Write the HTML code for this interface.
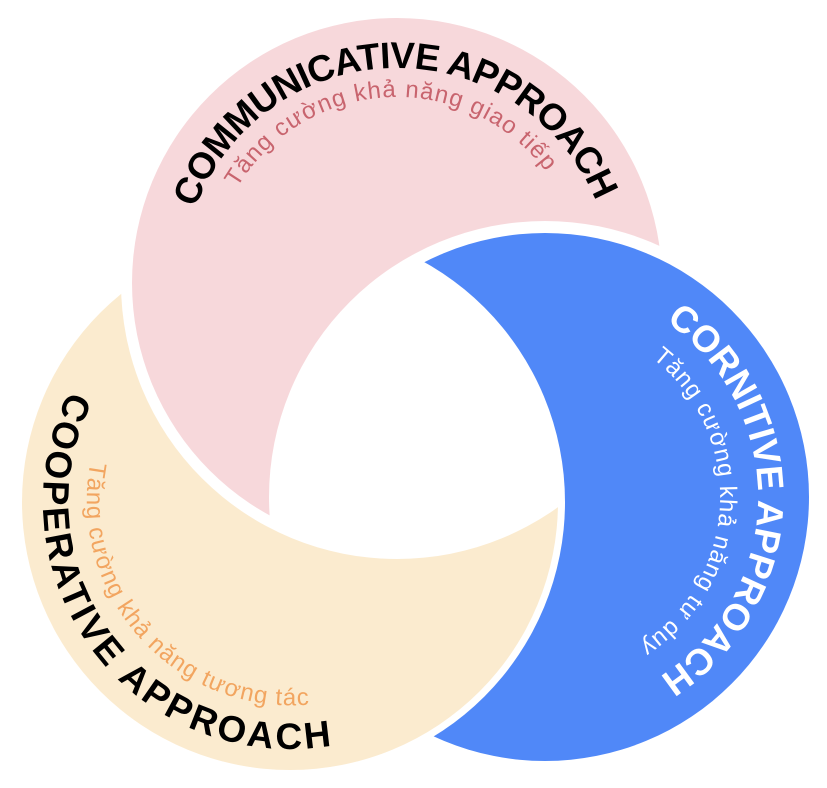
<!DOCTYPE html>
<html><head><meta charset="utf-8"><style>
html,body{margin:0;padding:0;background:#fff;}
svg{display:block;}
.t{font-family:"Liberation Sans",Arial,sans-serif;font-weight:bold;font-size:37px;}
.s{font-family:"Liberation Sans",Arial,sans-serif;font-size:24px;}
</style></head><body>
<svg width="827" height="788" viewBox="0 0 827 788" xmlns="http://www.w3.org/2000/svg">
<defs>
<mask id="mp" maskUnits="userSpaceOnUse" x="0" y="0" width="827" height="788">
<rect width="827" height="788" fill="#fff"/><circle cx="545" cy="497" r="276" fill="#000"/></mask>
<mask id="mb" maskUnits="userSpaceOnUse" x="0" y="0" width="827" height="788">
<rect width="827" height="788" fill="#fff"/><circle cx="290" cy="502" r="275" fill="#000"/></mask>
<mask id="my" maskUnits="userSpaceOnUse" x="0" y="0" width="827" height="788">
<rect width="827" height="788" fill="#fff"/><circle cx="397" cy="283" r="276" fill="#000"/></mask>
<path id="pt" d="M182.03,286.75 A215,215 0 0 1 611.97,279.25"/>
<path id="ps" d="M211.25,292.73 A186,186 0 0 1 582.75,273.27"/>
<path id="bt" d="M548.72,284.03 A213,213 0 0 1 541.28,709.97"/>
<path id="bs" d="M552.68,321.17 A176,176 0 0 1 537.32,672.83"/>
<path id="yt" d="M143.1,303.4 A247,247 0 0 0 436.9,700.6"/>
<path id="ys" d="M152.8,349.7 A205,205 0 0 0 427.2,654.3"/>
</defs>
<circle cx="397" cy="283" r="265" fill="#f7d8db" mask="url(#mp)"/>
<circle cx="545" cy="497" r="264" fill="#5088f8" mask="url(#mb)"/>
<circle cx="290" cy="502" r="268" fill="#fbebcf" mask="url(#my)"/>

<text class="t" fill="#000"><textPath href="#pt" startOffset="50%" text-anchor="middle" textLength="515" lengthAdjust="spacing">COMMUNICATIVE APPROACH</textPath></text>
<text class="s" fill="#c8646e"><textPath href="#ps" startOffset="50%" text-anchor="middle" textLength="365" lengthAdjust="spacing">Tăng cường khả năng giao tiếp</textPath></text>

<text class="t" fill="#fff"><textPath href="#bt" startOffset="50%" text-anchor="middle" textLength="420" lengthAdjust="spacing">CORNITIVE APPROACH</textPath></text>
<text class="s" fill="#fff"><textPath href="#bs" startOffset="50%" text-anchor="middle" textLength="335" lengthAdjust="spacing">Tăng cường khả năng tư duy</textPath></text>

<text class="t" fill="#000"><textPath href="#yt" startOffset="50%" text-anchor="middle" textLength="545" lengthAdjust="spacing">COOPERATIVE APPROACH</textPath></text>
<text class="s" fill="#f2a560"><textPath href="#ys" startOffset="50%" text-anchor="middle" textLength="378" lengthAdjust="spacing">Tăng cường khả năng tương tác</textPath></text>
</svg>
</body></html>
